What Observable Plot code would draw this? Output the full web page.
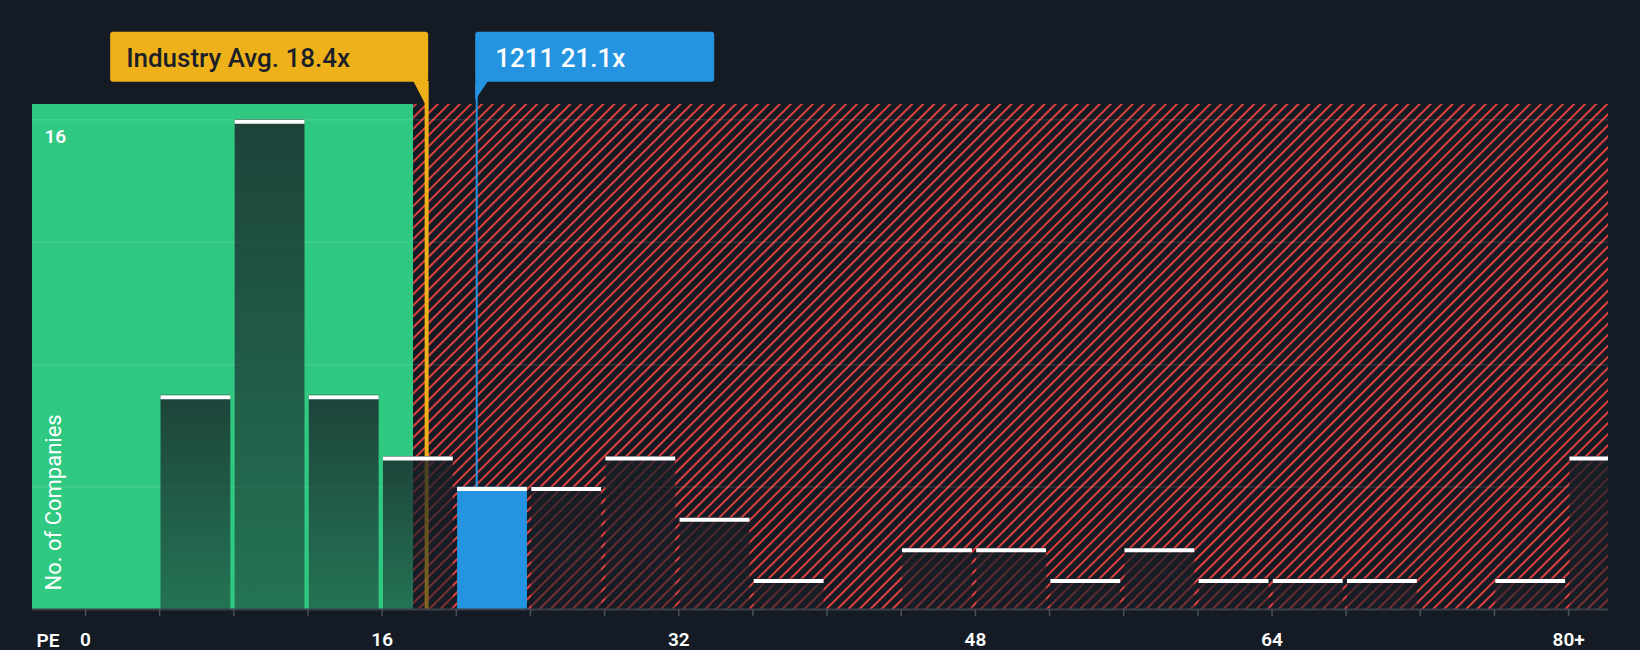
<!DOCTYPE html>
<html><head><meta charset="utf-8">
<script src="https://cdn.jsdelivr.net/npm/d3@7"></script>
<script src="https://cdn.jsdelivr.net/npm/@observablehq/plot@0.6"></script>
<style>
html,body{margin:0;padding:0;background:#151b24;}
#chart{width:1640px;height:650px;}
</style></head><body><div id="chart"></div>
<script>
// ---- data ----
const binStarts = [0,4,8,12,16,20,24,28,32,36,40,44,48,52,56,60,64,68,72,76,80];
const counts    = [0,7,16,7,5,4,4,5,3,1,0,2,2,1,2,1,1,1,0,1,5];
const binWidth = 4;
const industryAvg = 18.4;
const companyPE = 21.1;
const companyName = "1211";
const industryLabel = "Industry Avg. " + industryAvg + "x";
const companyLabel = companyName + " " + companyPE + "x";
const fairEnd = 17.7;
const xDomain = [-2.86, 82.15];
const yMax = 16.5;
const xTickValues = [0,16,32,48,64,80];
const xTickLabels = ["0","16","32","48","64","80+"];
const xMinorTicks = d3.range(0, 84, 4);
const gridValues = [4,8,12,16];
const yLabelValues = [16];
const yTitle = "No. of Companies";
const xTitle = "PE";

const bins = binStarts.map((s,i)=>({x1:s, x2:s+binWidth, count:counts[i],
  highlight: companyPE>=s && companyPE<s+binWidth})).filter(d=>d.count>0);

const GREEN = "#2fc982", RED = "#e0413f", BG = "#151b24", BLUE = "#2494e0", GOLD = "#eeb11a";

const defs = () => {
  const g = d3.create("svg:defs");
  const p = g.append("pattern").attr("id","hatch").attr("patternUnits","userSpaceOnUse")
    .attr("width",7.8).attr("height",7.8).attr("patternTransform","rotate(45)");
  p.append("rect").attr("width",7.8).attr("height",7.8).attr("fill",BG);
  p.append("rect").attr("width",2).attr("height",7.8).attr("fill",RED);
  const lg = g.append("linearGradient").attr("id","barShade").attr("x1",0).attr("y1",0).attr("x2",0).attr("y2",1);
  lg.append("stop").attr("offset","0%").attr("stop-color","rgb(24,30,38)").attr("stop-opacity",0.78);
  lg.append("stop").attr("offset","100%").attr("stop-color","rgb(24,30,38)").attr("stop-opacity",0.5);
  return g.node();
};

const chart = Plot.plot({
  width:1640, height:650, marginTop:104, marginBottom:41, marginLeft:32, marginRight:32,
  x:{domain:xDomain, axis:null},
  y:{domain:[0,yMax], axis:null},
  style:{background:"transparent", color:"white", fontFamily:"Roboto, sans-serif", overflow:"visible"},
  marks:[
    defs,
    Plot.rect([0],{x1:xDomain[0], x2:fairEnd, fill:GREEN}),
    Plot.rect([0],{x1:fairEnd, x2:xDomain[1], fill:"url(#hatch)"}),
    Plot.ruleY(gridValues,{stroke:"white", strokeOpacity:0.1, strokeWidth:1.5}),
    Plot.ruleX([industryAvg],{stroke:GOLD, strokeWidth:4, insetTop:-23}),
    Plot.ruleX([companyPE],{stroke:BLUE, strokeWidth:2, insetTop:-23}),
    Plot.rect(bins.filter(d=>!d.highlight),{x1:"x1", x2:"x2", y1:0, y2:"count",
      fill:"url(#barShade)", insetLeft:1.3, insetRight:3, clip:true}),
    Plot.rect(bins.filter(d=>d.highlight),{x1:"x1", x2:"x2", y1:0, y2:"count",
      fill:BLUE, insetLeft:1.3, insetRight:3, clip:true}),
    Plot.ruleY(bins,{y:"count", x1:"x1", x2:"x2", stroke:"white", strokeWidth:4, dy:2,
      insetLeft:1.3, insetRight:3, clip:true}),
    Plot.ruleY([0],{stroke:"#3a4049", strokeWidth:2}),
    Plot.axisX({ticks:xMinorTicks, tickSize:7, tickFormat:()=>"", stroke:"#4a4f58", strokeWidth:1.5}),
    Plot.axisX({ticks:xTickValues, tickSize:0, tickPadding:23,
      tickFormat:d=>xTickLabels[xTickValues.indexOf(d)], fontSize:19, fontWeight:600, color:"white"}),
    Plot.text([xTitle],{text:d=>d, frameAnchor:"bottom-left", dx:4, dy:23.5, lineAnchor:"top",
      textAnchor:"start", fontSize:19, fontWeight:600, fill:"white"}),
    Plot.text(yLabelValues,{y:d=>d, text:d=>String(d), frameAnchor:"left", dx:12, dy:9.3,
      lineAnchor:"top", textAnchor:"start", fontSize:19, fontWeight:600, fill:"white"}),
    Plot.text([yTitle],{text:d=>d, frameAnchor:"bottom-left", rotate:-90, textAnchor:"start",
      lineAnchor:"middle", dx:21, dy:-19, fontSize:22, fill:"white"})
  ]
});
document.getElementById("chart").appendChild(chart);

// ---- annotation callouts, positioned via the Plot x scale ----
const xs = chart.scale("x");
const svg = d3.select(chart);
const xa = xs.apply(industryAvg), xc = xs.apply(companyPE);
const boxTop = 31.7, boxH = 50, boxBot = boxTop + boxH, plotTop = 104;
const g = svg.append("g").attr("text-anchor", "start");
// industry (gold) box: right edge aligned with the line's right edge
const yr = xa + 2, yw = 318, yl = yr - yw;
g.append("rect").attr("x", yl).attr("y", boxTop).attr("width", yw).attr("height", boxH).attr("rx", 3).attr("fill", GOLD);
g.append("path").attr("d", `M${yr-15},${boxBot-1}L${yr},${boxBot-1}L${yr},${plotTop}L${yr-3},${plotTop}Z`).attr("fill", GOLD);
g.append("text").attr("x", yl + 16).attr("y", boxTop + 35).attr("fill", "#1b1f28").attr("text-anchor","start")
  .attr("font-family","Roboto, sans-serif").attr("font-size", 26).attr("font-weight", 500).text(industryLabel);
// company (blue) box: left edge aligned with the line's left edge
const bl = xc - 1, bw = 239;
g.append("rect").attr("x", bl).attr("y", boxTop).attr("width", bw).attr("height", boxH).attr("rx", 3).attr("fill", BLUE);
g.append("path").attr("d", `M${bl},${boxBot-1}L${bl+13},${boxBot-1}L${bl},${plotTop-4}Z`).attr("fill", BLUE);
g.append("text").attr("x", bl + 20).attr("y", boxTop + 35).attr("fill", "white").attr("text-anchor","start")
  .attr("font-family","Roboto, sans-serif").attr("font-size", 26).attr("font-weight", 500).text(companyLabel);
</script></body></html>
